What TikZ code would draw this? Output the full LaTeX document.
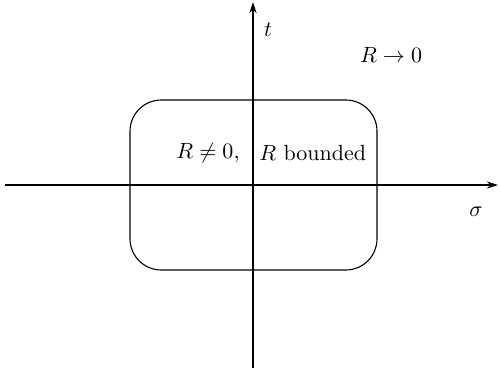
\documentclass[tikz,border=0pt]{standalone}
\usepackage{amsmath,amssymb}
\usetikzlibrary{arrows.meta}

\begin{document}
\begin{tikzpicture}[
  x=0.16mm, y=-0.16mm,
  axis/.style={-{Stealth[length=1.8mm,width=1.15mm]}, line width=0.5pt},
  region/.style={draw, line width=0.5pt, rounded corners=5mm},
  lbl/.style={inner sep=0pt}
]
\useasboundingbox (0,0) rectangle (500,373);
% axes
\coordinate (xs) at (5,185);
\coordinate (xe) at (498,185);
\coordinate (ys) at (253,368);
\coordinate (ye) at (253,2);
\draw[axis] (xs) -- (xe);
\draw[axis] (ys) -- (ye);
% region
\draw[region] (130,100) rectangle (377,270);
% labels
\node[lbl] (tl)   at (268,30)  {$t$};
\node[lbl] (sl)   at (476,212) {$\sigma$};
\node[lbl] (far)  at (391,55)  {$R\to 0$};
\node[lbl] (nz)   at (208,153) {$R\neq 0,$};
\node[lbl, anchor=west] (bd) at (259,153) {$R$ bounded};
\end{tikzpicture}
\end{document}
